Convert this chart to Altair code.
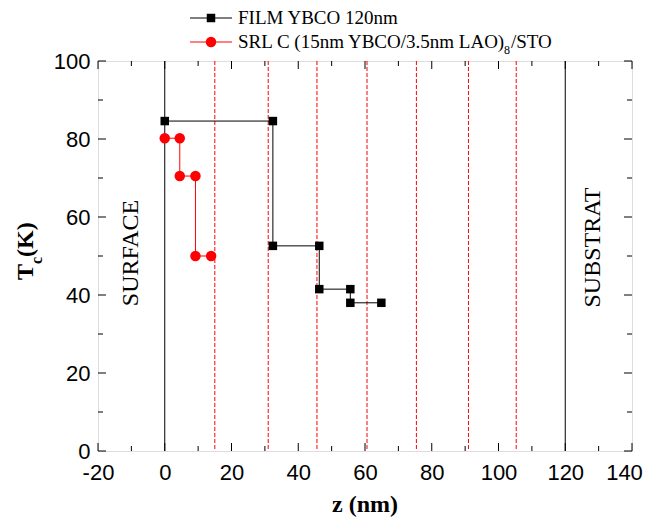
import altair as alt
import pandas as pd

# ---- data ----
film_z = [0, 32.4, 32.4, 46.3, 46.3, 55.6, 55.6, 64.9]
film_tc = [84.6, 84.6, 52.6, 52.6, 41.5, 41.5, 38.0, 38.0]
srl_z = [0, 4.5, 4.5, 9.2, 9.2, 13.9]
srl_tc = [80.2, 80.2, 70.5, 70.5, 50.0, 50.0]
solid_z = [0, 120]
dashed_z = [15.0, 31.0, 45.6, 60.6, 75.4, 91.0, 105.3]
x_major = [-20, 0, 20, 40, 60, 80, 100, 120, 140]
x_minor = [-10, 10, 30, 50, 70, 90, 110, 130]
y_major = [0, 20, 40, 60, 80, 100]
y_minor = [10, 30, 50, 70, 90]

W, H = 534, 390
SERIF = "Liberation Serif"
SANS = "Liberation Sans"

xs = alt.Scale(domain=[-20, 140], nice=False, zero=False)
ys = alt.Scale(domain=[0, 100], nice=False, zero=False)

film = pd.DataFrame({"z": film_z, "tc": film_tc, "o": list(range(len(film_z)))})
srl = pd.DataFrame({"z": srl_z, "tc": srl_tc, "o": list(range(len(srl_z)))})

base_x = alt.X("z:Q", scale=xs, title=None,
               axis=alt.Axis(values=x_major, grid=False, domain=False, ticks=False,
                             labelFont=SANS, labelFontSize=22, labelColor="black",
                             labelExpr="'' + datum.value",
                             labelOffset={"condition": {"test": "datum.value >= 140", "value": -8},
                                          "value": 0},
                             labelPadding=11, labelFlush=False, labelOverlap=False))
base_y = alt.Y("tc:Q", scale=ys, title=None,
               axis=alt.Axis(values=y_major, grid=False, domain=False, ticks=False,
                             labelFont=SANS, labelFontSize=22, labelColor="black",
                             labelPadding=8, labelFlush=False, labelOverlap=False))

solid = alt.Chart(pd.DataFrame({"z": solid_z})).mark_rule(color="black", strokeWidth=1).encode(
    x=alt.X("z:Q", scale=xs), y=alt.value(0), y2=alt.value(H))
dashed = alt.Chart(pd.DataFrame({"z": dashed_z})).mark_rule(
    color="#ff0000", strokeWidth=1, strokeDash=[4, 2]).encode(
    x=alt.X("z:Q", scale=xs), y=alt.value(0), y2=alt.value(H))

film_line = alt.Chart(film).mark_line(color="black", strokeWidth=1).encode(
    x=base_x, y=base_y, order="o:Q")
film_pts = alt.Chart(film).mark_square(color="black", size=72, opacity=1).encode(
    x=alt.X("z:Q", scale=xs), y=alt.Y("tc:Q", scale=ys))
srl_line = alt.Chart(srl).mark_line(color="#ff0000", strokeWidth=1).encode(
    x=alt.X("z:Q", scale=xs), y=alt.Y("tc:Q", scale=ys), order="o:Q")
srl_pts = alt.Chart(srl).mark_circle(color="#ff0000", size=110, opacity=1).encode(
    x=alt.X("z:Q", scale=xs), y=alt.Y("tc:Q", scale=ys))

# inward ticks on all four sides
def xticks(vals, length):
    d = pd.DataFrame({"z": vals})
    b = alt.Chart(d).mark_rule(color="black", strokeWidth=1).encode(
        x=alt.X("z:Q", scale=xs), y=alt.value(H), y2=alt.value(H - length))
    t = alt.Chart(d).mark_rule(color="black", strokeWidth=1).encode(
        x=alt.X("z:Q", scale=xs), y=alt.value(0), y2=alt.value(length))
    return [b, t]

def yticks(vals, length):
    d = pd.DataFrame({"tc": vals})
    l = alt.Chart(d).mark_rule(color="black", strokeWidth=1).encode(
        y=alt.Y("tc:Q", scale=ys), x=alt.value(0), x2=alt.value(length))
    r = alt.Chart(d).mark_rule(color="black", strokeWidth=1).encode(
        y=alt.Y("tc:Q", scale=ys), x=alt.value(W), x2=alt.value(W - length))
    return [l, r]

ticks = xticks(x_major, 8) + xticks(x_minor, 5) + yticks(y_major, 8) + yticks(y_minor, 5)

one = pd.DataFrame({"a": [0]})

def txt(s, x, y, size, font=SERIF, weight="normal", angle=0, align="left",
        baseline="alphabetic", color="black"):
    return alt.Chart(one).mark_text(
        font=font, fontSize=size, fontWeight=weight, angle=angle, align=align,
        baseline=baseline, color=color).encode(
        x=alt.value(x), y=alt.value(y), text=alt.value(s))

texts = [
    txt("z (nm)", W / 2, 451, 24, weight="bold", align="center"),
    txt("T", -65, 219, 24, weight="bold", angle=270),
    txt("c", -56, 203, 16, weight="bold", angle=270),
    txt("(K)", -65, 196, 24, weight="bold", angle=270),
    txt("SURFACE", 40, 192, 24, angle=270, align="center"),
    txt("SUBSTRAT", 502, 186.5, 24, angle=270, align="center"),
    # legend
    txt("FILM YBCO 120nm", 140, -43, 19, baseline="middle"),
    txt("SRL C (15nm YBCO/3.5nm LAO)", 140, -19, 19, baseline="middle"),
    txt("8", 406, -11, 12, baseline="middle"),
    txt("/STO", 413, -19, 19, baseline="middle"),
]

leg = [
    alt.Chart(one).mark_rule(color="black", strokeWidth=1).encode(
        x=alt.value(92), x2=alt.value(134), y=alt.value(-43)),
    alt.Chart(one).mark_square(color="black", size=72, opacity=1).encode(
        x=alt.value(113), y=alt.value(-43)),
    alt.Chart(one).mark_rule(color="#ff0000", strokeWidth=1).encode(
        x=alt.value(92), x2=alt.value(134), y=alt.value(-19)),
    alt.Chart(one).mark_circle(color="#ff0000", size=110, opacity=1).encode(
        x=alt.value(113), y=alt.value(-19)),
]

chart = alt.layer(
    solid, dashed, film_line, film_pts, srl_line, srl_pts, *ticks, *texts, *leg
).properties(
    width=W, height=H,
    autosize=alt.AutoSizeParams(type="none"),
    padding={"left": 90, "top": 53, "right": 11, "bottom": 66},
).configure_view(stroke="black", strokeWidth=1.2).configure(background="white")

chart.save("out.html", embed_options={"renderer": "svg", "actions": False})
